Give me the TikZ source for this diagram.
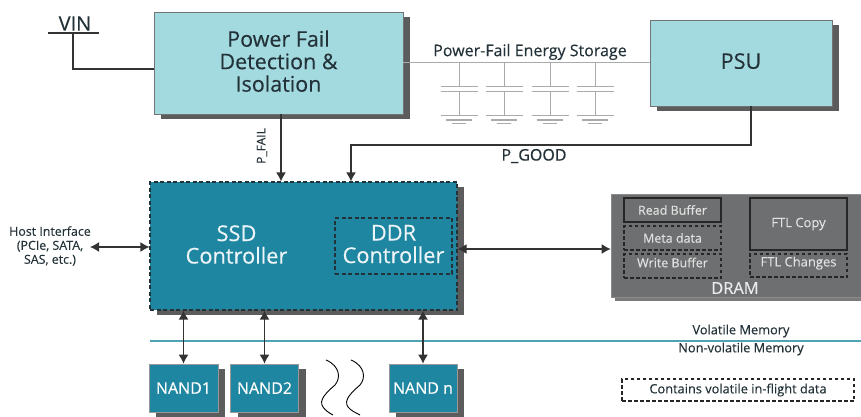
\documentclass[tikz,border=0pt]{standalone}
\usepackage{fontspec}
\setmainfont{Open Sans}[FakeBold=0.25]
\usetikzlibrary{arrows.meta,shadows,calc}
\definecolor{lightb}{HTML}{A3DAE0}
\definecolor{teal1}{HTML}{1F86A1}
\definecolor{dramg}{HTML}{6E6F70}
\definecolor{inkd}{HTML}{233238}
\definecolor{lineg}{HTML}{A9ABAB}
\definecolor{sepl}{HTML}{4FA3B2}
\tikzset{
  x=1pt,y=-1pt,
  sh/.style={drop shadow={shadow xshift=7pt,shadow yshift=-5pt,fill=black!75,opacity=.85}},
  power/.style={draw=black!55,line width=.8pt,fill=lightb,sh,text=inkd,align=center,inner sep=0pt,font=\fontsize{21.5}{22.5}\selectfont},
  ctrl/.style={draw=inkd,dashed,dash pattern=on 4pt off 2.5pt,line width=1.1pt,fill=teal1,sh,inner sep=0pt},
  nand/.style={draw=black!40,line width=.6pt,fill=teal1,sh,text=white,inner sep=0pt,font=\fontsize{16}{18}\selectfont},
  lighttxt/.style={text=white!92!teal1,align=center,font=\fontsize{21.8}{22.5}\selectfont},
  solidbuf/.style={draw=black!85,line width=1.2pt,text=white!88!black,inner sep=0pt,font=\fontsize{12.5}{14}\selectfont},
  dashbuf/.style={solidbuf,dashed,dash pattern=on 3.5pt off 2.5pt},
  wire/.style={draw=black!80,line width=1.4pt},
  arr/.style={wire,-{Latex[length=9pt,width=10pt]}},
  darr/.style={wire,{Latex[length=9pt,width=10pt]}-{Latex[length=9pt,width=10pt]}},
  capl/.style={draw=lineg,line width=1pt},
  lbl/.style={text=inkd,inner sep=0pt,align=center},
}
\begin{document}
\begin{tikzpicture}
\useasboundingbox (0,0) rectangle (861,417);
\fill[white] (0,0) rectangle (861,417);

% top boxes
\node[power,minimum width=249pt,minimum height=102pt,text depth=4pt] (pf) at (278.5,63) {Power Fail\\Detection \&\\Isolation};
\node[power,minimum width=182pt,minimum height=86pt,text depth=4pt] (psu) at (741,63) {PSU};

% energy bus and capacitors
\draw[capl] (pf.east) -- (psu.west);
\node[lbl,font=\fontsize{16}{18}\selectfont] (pfes) at (530,52) {Power-Fail Energy Storage};
\foreach \cx/\cn in {459/a,504/b,550/c,595/d}{
  \coordinate (bus\cn) at (\cx,63);
  \coordinate (pt\cn) at (\cx,87);
  \coordinate (pb\cn) at (\cx,92);
  \coordinate (gnd\cn) at (\cx,116);
  \draw[capl] (bus\cn) -- (pt\cn);
  \draw[capl] (pb\cn) -- (gnd\cn);
  \draw[capl] ($(pt\cn)+(-18.5,0)$) -- ($(pt\cn)+(18.5,0)$);
  \draw[capl] ($(pb\cn)+(-18.5,0)$) -- ($(pb\cn)+(18.5,0)$);
  \draw[capl] ($(gnd\cn)+(-18.5,0)$) -- ($(gnd\cn)+(18.5,0)$);
  \draw[capl] ($(gnd\cn)+(-13,4)$) -- ($(gnd\cn)+(13,4)$);
  \draw[capl] ($(gnd\cn)+(-7,7)$) -- ($(gnd\cn)+(7,7)$);
}

% VIN
\coordinate (vinl) at (48,33);
\coordinate (vinr) at (99,33);
\coordinate (vint) at (73,33);
\node[lbl,font=\fontsize{20}{22}\selectfont] (vin) at (75,23.5) {VIN};
\draw[wire] (vinl) -- (vinr);
\draw[wire] (vint) |- (pf.west |- 0,69);

% SSD controller
\node[ctrl,minimum width=307pt,minimum height=128pt] (ssd) at (303.5,246) {};
\node[lighttxt] (ssdt) at (236.5,244.5) {SSD\\Controller};
\node[draw=inkd,dashed,dash pattern=on 4pt off 2.5pt,line width=1.1pt,lighttxt,minimum width=117pt,minimum height=56pt,inner sep=0pt,text depth=4pt] (ddr) at (393.5,246) {DDR\\Controller};

% power signals
\draw[arr] (pf.south -| 281,0) -- (ssd.north -| 281,0);
\node[lbl,rotate=90,font=\fontsize{12}{14}\selectfont] (pfail) at (262,146) {P\_FAIL};
\coordinate (pgbend) at (751,145);
\coordinate (pgdrop) at (351,145);
\draw[arr] (psu.south -| pgbend) -- (pgbend) -- (pgdrop) -- (ssd.north -| pgdrop);
\node[lbl,font=\fontsize{16}{18}\selectfont] (pgood) at (534,156) {P\_GOOD};

% Host
\node[lbl,font=\fontsize{12.4}{14}\selectfont] (host) at (50,246) {Host Interface\\(PCIe, SATA,\\SAS, etc.)};
\coordinate (hostend) at (90,247);
\draw[darr] (hostend) -- (ssd.west |- hostend);

% DRAM
\node[draw=black!45,line width=.6pt,fill=dramg,drop shadow={shadow xshift=4pt,shadow yshift=-4pt,fill=black!65,opacity=.8},minimum width=255pt,minimum height=103pt,inner sep=0pt] (dram) at (738.5,245.5) {};
\node[text=white!92!black,inner sep=0pt,font=\fontsize{16.4}{18}\selectfont] (dramt) at (735,288) {DRAM};
\node[solidbuf,minimum width=97pt,minimum height=24pt] (rb) at (672.5,210) {Read Buffer};
\node[dashbuf,minimum width=97pt,minimum height=24pt] (md) at (672.5,238) {Meta data};
\node[dashbuf,minimum width=97pt,minimum height=24pt,text depth=7pt] (wb) at (672.5,266) {Write Buffer};
\node[solidbuf,minimum width=97pt,minimum height=52pt,font=\fontsize{13}{15}\selectfont] (ftl) at (798.5,224) {FTL Copy};
\node[dashbuf,minimum width=97pt,minimum height=23pt,font=\fontsize{13}{15}\selectfont,text depth=8pt] (ftc) at (798.5,265.5) {FTL Changes};
\draw[darr] (ssd.east |- 0,249) -- (dram.west |- 0,249);

% separator
\coordinate (sepa) at (150,341);
\coordinate (sepb) at (861,341);
\draw[sepl,line width=1.4pt] (sepa) -- (sepb);
\node[lbl,font=\fontsize{12.8}{14}\selectfont] (vol) at (741,331) {Volatile Memory};
\node[lbl,font=\fontsize{12.8}{14}\selectfont] (nvol) at (741,349) {Non-volatile Memory};

% NAND
\node[nand,minimum width=69pt,minimum height=48pt] (n1) at (183.5,388) {NAND1};
\node[nand,minimum width=68pt,minimum height=48pt] (n2) at (264.5,388) {NAND2};
\node[nand,minimum width=68pt,minimum height=48pt] (nn) at (423,388) {NAND n};
\draw[darr] (n1.north) -- (ssd.south -| n1.north);
\draw[darr] (n2.north) -- (ssd.south -| n2.north);
\draw[darr] (nn.north) -- (ssd.south -| nn.north);

% break marks
\draw[black,line width=.9pt] (326,360) .. controls (340,366) and (341,378) .. (335,385) .. controls (327,392) and (318,400) .. (323,407) .. controls (325,410) and (329,413) .. (333,415);
\draw[black,line width=.9pt] (351,360) .. controls (365,366) and (366,378) .. (360,385) .. controls (352,392) and (343,400) .. (348,407) .. controls (350,410) and (356,413) .. (360,415);

% legend
\node[lbl,draw=black!85,dashed,dash pattern=on 3.5pt off 2.5pt,line width=1.1pt,minimum width=232pt,minimum height=22pt,font=\fontsize{12.8}{14}\selectfont] (leg) at (738,390) {Contains volatile in-flight data};
\end{tikzpicture}
\end{document}
